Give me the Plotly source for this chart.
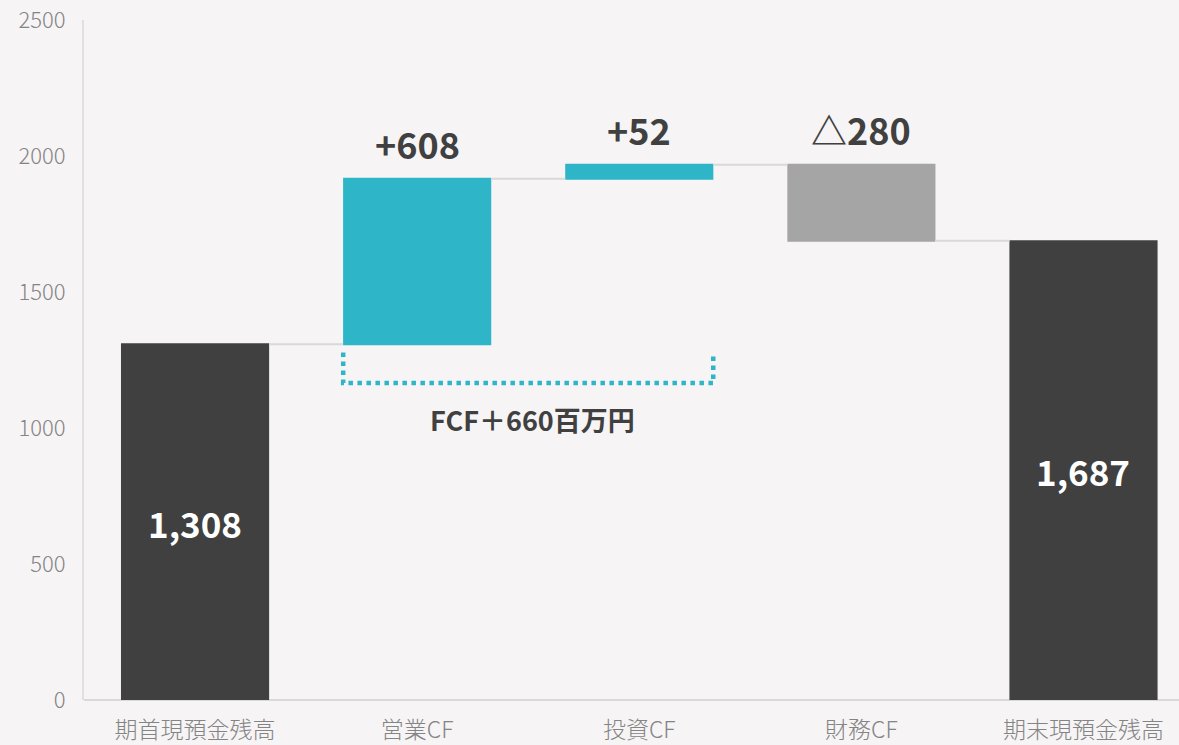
import plotly.graph_objects as go

categories = ["期首現預金残高", "営業CF", "投資CF", "財務CF", "期末現預金残高"]
measures = ["absolute", "relative", "relative", "relative", "absolute"]
values = [1308, 608, 52, -280, 1687]
labels = ["1,308", "+608", "+52", "△280", "1,687"]
fcf_label = "FCF＋660百万円"
fcf_level = 1030

BG = "#F6F4F5"
DARK = "#404040"
TEAL = "#2EB5C8"
GRAY = "#A5A5A5"
FONT = "Noto Sans CJK JP"

fig = go.Figure()
fig.add_trace(go.Waterfall(
    x=categories, y=values, measure=measures,
    width=0.667,
    increasing=dict(marker=dict(color=TEAL)),
    decreasing=dict(marker=dict(color=GRAY)),
    totals=dict(marker=dict(color=DARK)),
    connector=dict(mode="between", line=dict(color="#D9D9D9", width=2)),
    hoverinfo="skip", showlegend=False,
))

level = 0
tops = []
for m, v in zip(measures, values):
    if m == "absolute":
        level = v
        tops.append((0, level))
    else:
        prev = level
        level = level + v
        tops.append((prev, level))

for i, (cat, lab) in enumerate(zip(categories, labels)):
    lo, hi = tops[i]
    if measures[i] == "absolute":
        fig.add_annotation(x=cat, y=hi / 2, text=lab, showarrow=False,
                           font=dict(family=FONT, size=35, color="white", weight="bold"),
                           yanchor="middle")
    else:
        fig.add_annotation(x=cat, y=max(lo, hi), text=lab, showarrow=False,
                           font=dict(family=FONT, size=36, color=DARK, weight="bold"),
                           yanchor="bottom", yshift=8)

x0, x1 = 1 - 0.333, 2 + 0.333
y_top = tops[1][0] - 30
y_bot = fcf_level + 135
fig.add_shape(type="path",
              path=f"M {x0},{y_top} L {x0},{y_bot} L {x1},{y_bot} L {x1},{y_top}",
              xref="x", yref="y",
              line=dict(color=TEAL, width=4.5, dash="4.5px,4.5px"))
fig.add_annotation(x=1.52, y=fcf_level, text=fcf_label, showarrow=False,
                   font=dict(family=FONT, size=27, color=DARK, weight="bold"),
                   yanchor="middle")

fig.update_layout(
    width=1179, height=745,
    paper_bgcolor=BG, plot_bgcolor=BG,
    margin=dict(l=84, r=0, t=20, b=43),
    font=dict(family=FONT),
    xaxis=dict(type="category", range=[-0.5, 4.43], showgrid=False, zeroline=False,
               showline=False, ticks="", ticklabelstandoff=14,
               tickfont=dict(size=23, color="#848484", weight=300)),
    yaxis=dict(range=[0, 2500], tickvals=[0, 500, 1000, 1500, 2000, 2500],
               showgrid=False, zeroline=True, zerolinecolor="#D9D9D9", zerolinewidth=2,
               showline=True, linecolor="#E0E0E0", linewidth=2,
               ticks="", ticklen=0, ticklabelstandoff=12,
               tickfont=dict(size=22, color="#848484", weight=300)),
)

fig.write_html("out.html", config={"displayModeBar": False})
with open("out.html", encoding="utf-8") as f:
    html = f.read()
html = html.replace("<head>", "<head><style>html,body{margin:0;padding:0;overflow:hidden;background:#F6F4F5;}</style>", 1)
with open("out.html", "w", encoding="utf-8") as f:
    f.write(html)
